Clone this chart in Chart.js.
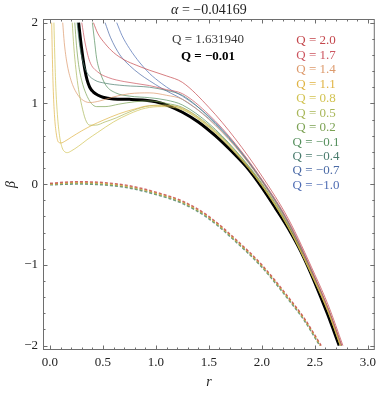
<!DOCTYPE html>
<html>
<head>
<meta charset="utf-8">
<script src="https://cdn.jsdelivr.net/npm/chart.js@4.4.0/dist/chart.umd.min.js"></script>
<style>
  html, body { margin: 0; padding: 0; background: #fff; }
</style>
</head>
<body>
<canvas id="chart" width="381" height="395"></canvas>
<script>
// tick labels
const xTicks = [0, 0.5, 1, 1.5, 2, 2.5, 3];
const yTicks = [-2, -1, 0, 1, 2];

// legend entries (Q values) and their colours
const qLabels = ['2.0', '1.7', '1.4', '1.1', '0.8', '0.5', '0.2', '\u22120.1', '\u22120.4', '\u22120.7', '\u22121.0'];
const qColors = ['#c4474c', '#cc5560', '#dd9a6c', '#e0b444', '#d2c352', '#a9b75a', '#7ca254', '#56905e', '#4a7c6e', '#4b6aa6', '#4f6db4'];

// solid branch, one [r, beta] list per Q
const q20 = [[0.41,2.0],[0.45,1.87],[0.52,1.74],[0.6,1.63],[0.7,1.54],[0.82,1.47],[0.94,1.41],[1.1,1.34],[1.25,1.26],[1.5,0.95],[1.75,0.56],[2.0,0.10],[2.25,-0.43],[2.5,-1.12],[2.63,-1.51],[2.765,-2.0]];
const q17 = [[0.30,2.0],[0.33,1.76],[0.375,1.52],[0.45,1.39],[0.55,1.32],[0.7,1.27],[0.94,1.22],[1.1,1.17],[1.25,1.12],[1.5,0.86],[1.75,0.50],[2.0,0.06],[2.25,-0.46],[2.5,-1.15],[2.63,-1.55],[2.755,-2.0]];
const q14 = [[0.12,2.0],[0.135,1.75],[0.16,1.5],[0.2,1.28],[0.25,1.13],[0.3,1.05],[0.375,1.01],[0.47,1.03],[0.6,1.08],[0.75,1.12],[0.94,1.13],[1.1,1.10],[1.25,1.05],[1.5,0.80],[1.75,0.46],[2.0,0.03],[2.25,-0.49],[2.5,-1.18],[2.63,-1.57],[2.75,-2.0]];
const q11 = [[0.016,2.0],[0.022,1.6],[0.03,1.2],[0.042,0.86],[0.06,0.62],[0.08,0.52],[0.105,0.51],[0.14,0.53],[0.2,0.58],[0.3,0.66],[0.4,0.73],[0.5,0.79],[0.65,0.87],[0.8,0.93],[0.94,0.97],[1.1,0.97],[1.25,0.94],[1.5,0.72],[1.75,0.40],[2.0,-0.01],[2.25,-0.53],[2.5,-1.20],[2.63,-1.59],[2.742,-2.0]];
const q08 = [[0.037,2.0],[0.045,1.6],[0.055,1.2],[0.07,0.86],[0.09,0.6],[0.115,0.45],[0.14,0.40],[0.165,0.39],[0.2,0.41],[0.27,0.47],[0.35,0.55],[0.45,0.64],[0.6,0.77],[0.75,0.87],[0.9,0.94],[1.05,0.96],[1.25,0.92],[1.5,0.70],[1.75,0.38],[2.0,-0.02],[2.25,-0.54],[2.5,-1.21],[2.63,-1.60],[2.74,-2.0]];
const q05 = [[0.21,2.0],[0.225,1.7],[0.245,1.42],[0.27,1.17],[0.3,0.97],[0.335,0.80],[0.375,0.73],[0.43,0.73],[0.52,0.77],[0.625,0.82],[0.78,0.91],[0.94,0.97],[1.1,0.98],[1.25,0.93],[1.5,0.71],[1.75,0.39],[2.0,-0.02],[2.25,-0.54],[2.5,-1.21],[2.63,-1.60],[2.74,-2.0]];
const q02 = [[0.234,2.0],[0.25,1.72],[0.27,1.48],[0.3,1.28],[0.34,1.12],[0.39,1.0],[0.44,0.96],[0.52,0.96],[0.65,0.99],[0.8,1.02],[0.94,1.03],[1.1,1.0],[1.25,0.95],[1.5,0.73],[1.75,0.41],[2.0,0.0],[2.25,-0.52],[2.5,-1.2],[2.63,-1.59],[2.743,-2.0]];
const qm01 = [[0.40,2.0],[0.42,1.78],[0.44,1.56],[0.48,1.36],[0.53,1.22],[0.62,1.13],[0.75,1.09],[0.94,1.07],[1.1,1.04],[1.25,0.98],[1.5,0.75],[1.75,0.42],[2.0,0.01],[2.25,-0.51],[2.5,-1.19],[2.63,-1.58],[2.745,-2.0]];
const qm04 = [[0.256,2.0],[0.28,1.72],[0.31,1.52],[0.35,1.38],[0.42,1.29],[0.52,1.25],[0.7,1.22],[0.94,1.20],[1.1,1.16],[1.25,1.10],[1.5,0.83],[1.75,0.48],[2.0,0.04],[2.25,-0.48],[2.5,-1.17],[2.63,-1.56],[2.75,-2.0]];
const qm07 = [[0.52,2.0],[0.57,1.82],[0.66,1.60],[0.75,1.47],[0.85,1.36],[0.94,1.28],[1.05,1.19],[1.15,1.12],[1.25,1.05],[1.5,0.81],[1.75,0.47],[2.0,0.04],[2.25,-0.49],[2.5,-1.17],[2.63,-1.57],[2.75,-2.0]];
const qm10 = [[0.63,2.0],[0.68,1.84],[0.75,1.68],[0.85,1.50],[0.94,1.37],[1.05,1.25],[1.15,1.16],[1.25,1.09],[1.5,0.84],[1.75,0.49],[2.0,0.05],[2.25,-0.47],[2.5,-1.16],[2.63,-1.56],[2.752,-2.0]];

// the critical curve, Q = -0.01 (thick black)
const qCrit = [[0.27,2.0],[0.29,1.77],[0.31,1.57],[0.33,1.41],[0.35,1.29],[0.375,1.20],[0.41,1.14],[0.455,1.10],[0.5,1.075],[0.6,1.055],[0.75,1.05],[0.9,1.04],[1.0,1.02],[1.12,0.97],[1.25,0.89],[1.4,0.77],[1.56,0.60],[1.72,0.40],[1.87,0.19],[2.0,-0.04],[2.13,-0.30],[2.25,-0.55],[2.37,-0.84],[2.5,-1.22],[2.62,-1.61],[2.73,-2.0]];

// lower (dashed) branch, a few of the bundle
const dashA = [[0,0.01],[0.25,0.03],[0.5,0.02],[0.75,-0.02],[1.0,-0.10],[1.25,-0.21],[1.5,-0.40],[1.75,-0.68],[2.0,-1.0],[2.25,-1.40],[2.4,-1.66],[2.56,-2.0]];
const dashB = [[0,0.0],[0.25,0.02],[0.5,0.01],[0.75,-0.03],[1.0,-0.11],[1.25,-0.22],[1.5,-0.41],[1.75,-0.69],[2.0,-1.01],[2.25,-1.41],[2.4,-1.67],[2.555,-2.0]];
const dashC = [[0,0.0],[0.25,0.01],[0.5,0.0],[0.75,-0.04],[1.0,-0.12],[1.25,-0.23],[1.5,-0.42],[1.75,-0.70],[2.0,-1.02],[2.25,-1.42],[2.4,-1.68],[2.55,-2.0]];
const dashD = [[0,-0.01],[0.25,0.0],[0.5,-0.01],[0.75,-0.05],[1.0,-0.13],[1.25,-0.24],[1.5,-0.43],[1.75,-0.71],[2.0,-1.03],[2.25,-1.43],[2.4,-1.69],[2.545,-2.0]];

const serif = 'Liberation Serif';

function toPoints(arr) {
    return arr.map(p => ({ x: p[0], y: p[1] }));
}

function hexA(hex, a) {
    const n = parseInt(hex.slice(1), 16);
    return 'rgba(' + (n >> 16) + ',' + ((n >> 8) & 255) + ',' + (n & 255) + ',' + a + ')';
}

const solid = [q20, q17, q14, q11, q08, q05, q02, qm01, qm04, qm07, qm10];
const datasets = [];

// dashed lower branch first so it sits underneath
[[dashA, 0], [dashB, 3], [dashC, 6], [dashD, 8]].forEach(([arr, ci]) => {
    datasets.push({
        data: toPoints(arr),
        borderColor: hexA(qColors[ci], 0.8),
        borderWidth: 1.4,
        borderDash: [3, 2],
        pointRadius: 0,
        cubicInterpolationMode: 'monotone'
    });
});

solid.forEach((arr, i) => {
    datasets.push({
        data: toPoints(arr),
        borderColor: hexA(qColors[i], 0.7),
        borderWidth: 1,
        pointRadius: 0,
        cubicInterpolationMode: 'monotone'
    });
});

datasets.push({
    data: toPoints(qCrit),
    borderColor: '#000',
    borderWidth: 3,
    pointRadius: 0,
    cubicInterpolationMode: 'monotone'
});

// frame with inward ticks on all four sides
const frameTicks = {
    id: 'frameTicks',
    afterDatasetsDraw(chart) {
        const { ctx, chartArea: a, scales: { x, y } } = chart;
        ctx.save();
        ctx.strokeStyle = '#6e6e6e';
        ctx.lineWidth = 1;
        ctx.strokeRect(a.left + 0.5, a.top + 0.5, a.right - a.left - 1, a.bottom - a.top - 1);
        ctx.beginPath();
        for (let i = 0; i <= 30; i++) {
            const px = Math.round(x.getPixelForValue(i / 10)) + 0.5;
            const len = i % 5 === 0 ? 4.5 : 2.5;
            ctx.moveTo(px, a.bottom); ctx.lineTo(px, a.bottom - len);
            ctx.moveTo(px, a.top); ctx.lineTo(px, a.top + len);
        }
        for (let j = -10; j <= 10; j++) {
            const py = Math.round(y.getPixelForValue(j / 5)) + 0.5;
            const len = j % 5 === 0 ? 4.5 : 2.5;
            ctx.moveTo(a.left, py); ctx.lineTo(a.left + len, py);
            ctx.moveTo(a.right, py); ctx.lineTo(a.right - len, py);
        }
        ctx.stroke();
        ctx.restore();
    }
};

// title and the in-plot Q legend
const labelsPlugin = {
    id: 'labelsPlugin',
    afterDraw(chart) {
        const { ctx, chartArea: a } = chart;
        const cx = (a.left + a.right) / 2;
        ctx.save();
        ctx.textBaseline = 'middle';

        // title: italic alpha + rest
        ctx.fillStyle = '#222';
        ctx.font = 'italic 14px "' + serif + '"';
        const t1 = '\u03b1';
        const w1 = ctx.measureText(t1).width;
        ctx.font = '14px "' + serif + '"';
        const t2 = ' = \u22120.04169';
        const w2 = ctx.measureText(t2).width;
        let sx = cx - (w1 + w2) / 2;
        ctx.font = 'italic 14px "' + serif + '"';
        ctx.textAlign = 'left';
        ctx.fillText(t1, sx, 10);
        ctx.font = '14px "' + serif + '"';
        ctx.fillText(t2, sx + w1, 10);

        ctx.textAlign = 'center';
        ctx.fillStyle = '#3a3a3a';
        ctx.font = '13px "' + serif + '"';
        ctx.fillText('Q = 1.631940', 208, 40);
        ctx.fillStyle = '#000';
        ctx.font = 'bold 13px "' + serif + '"';
        ctx.fillText('Q = \u22120.01', 208, 57);

        ctx.font = '13px "' + serif + '"';
        qLabels.forEach((q, i) => {
            ctx.fillStyle = qColors[i];
            ctx.fillText('Q = ' + q, 316, 41 + i * 14.45);
        });
        ctx.restore();
    }
};

new Chart(document.getElementById('chart').getContext('2d'), {
    type: 'line',
    data: { datasets: datasets },
    options: {
        responsive: false,
        animation: false,
        events: [],
        layout: { padding: { top: 19, right: 4, left: 0, bottom: 0 } },
        plugins: { legend: { display: false }, tooltip: { enabled: false } },
        scales: {
            x: {
                type: 'linear',
                min: -0.066,
                max: 3.066,
                afterBuildTicks: s => { s.ticks = xTicks.map(v => ({ value: v })); },
                afterFit: s => { s.height = 45; },
                ticks: {
                    callback: v => v.toFixed(1),
                    font: { family: serif, size: 13 },
                    color: '#222',
                    padding: 5,
                    maxRotation: 0,
                    autoSkip: false
                },
                grid: { display: false, drawTicks: false },
                border: { display: false },
                title: {
                    display: true,
                    text: 'r',
                    color: '#222',
                    font: { family: serif, size: 14, style: 'italic' },
                    padding: { top: 0, bottom: 4 }
                }
            },
            y: {
                type: 'linear',
                min: -2.055,
                max: 2.045,
                afterBuildTicks: s => { s.ticks = yTicks.map(v => ({ value: v })); },
                afterFit: s => { s.width = 43; },
                ticks: {
                    callback: v => (v < 0 ? '\u2212' + Math.abs(v) : String(v)),
                    font: { family: serif, size: 13 },
                    color: '#222',
                    padding: 5,
                    autoSkip: false
                },
                grid: { display: false, drawTicks: false },
                border: { display: false },
                title: {
                    display: true,
                    text: '\u03b2',
                    color: '#222',
                    font: { family: serif, size: 14, style: 'italic' },
                    padding: { top: 3, bottom: 0 }
                }
            }
        }
    },
    plugins: [frameTicks, labelsPlugin]
});
</script>
</body>
</html>
